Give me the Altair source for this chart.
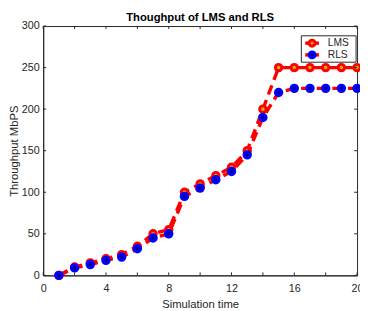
import altair as alt
import pandas as pd

time = list(range(1, 21))
lms = [0, 10, 15, 20, 25, 35, 50, 55, 100, 110, 120, 130, 150, 200, 250, 250, 250, 250, 250, 250]
rls = [0, 9, 13, 18, 22, 32, 45, 50, 95, 105, 115, 125, 145, 190, 220, 225, 225, 225, 225, 225]
series = ["LMS", "RLS"]
x_ticks = list(range(0, 21, 2))
y_ticks = list(range(0, 301, 50))

W, H = 321, 255
FONT = "Liberation Sans"
AX = "#262626"

df_l = pd.DataFrame({"t": time, "v": lms})
df_r = pd.DataFrame({"t": time, "v": rls})
one = pd.DataFrame({"a": [0]})

xs = alt.Scale(domain=[0, 20], nice=False, zero=False)
ys = alt.Scale(domain=[0, 300], nice=False, zero=False)

x_axis = alt.Axis(values=x_ticks, title="Simulation time", grid=False, ticks=False,
                  labelPadding=7, titlePadding=6, labelFont=FONT, labelFontSize=11,
                  labelColor=AX, titleFont=FONT, titleFontSize=11.5, titleFontWeight="normal",
                  titleColor=AX, domainColor=AX, labelFlush=False)
y_axis = alt.Axis(values=y_ticks, title="Throughput MbPS", grid=False, ticks=False,
                  labelPadding=4, labelFont=FONT, labelFontSize=11,
                  labelColor=AX, titleFont=FONT, titleFontSize=11.5, titleFontWeight="normal",
                  titleColor=AX, domainColor=AX,
                  titleX=-29, titleY=H / 2, titleAngle=270, titleAlign="center",
                  titleBaseline="middle")

RED = "#ff0000"
DASH = [10, 6]

def line(df):
    return alt.Chart(df).mark_line(color=RED, strokeWidth=3.5, strokeDash=DASH).encode(
        x=alt.X("t:Q", scale=xs, axis=x_axis),
        y=alt.Y("v:Q", scale=ys, axis=y_axis))

def pts(df, stroke, fill):
    return alt.Chart(df).mark_point(shape="circle", filled=False, stroke=stroke, fill=fill,
                                    fillOpacity=1, strokeWidth=3, size=44, opacity=1).encode(
        x=alt.X("t:Q", scale=xs), y=alt.Y("v:Q", scale=ys))

# inward ticks (MATLAB style)
xt = pd.DataFrame({"t": x_ticks})
yt = pd.DataFrame({"v": y_ticks})
tick_b = alt.Chart(xt).mark_rule(color=AX, strokeWidth=1).encode(
    x=alt.X("t:Q", scale=xs), y=alt.value(H), y2=alt.value(H - 3))
tick_t = alt.Chart(xt).mark_rule(color=AX, strokeWidth=1).encode(
    x=alt.X("t:Q", scale=xs), y=alt.value(0), y2=alt.value(3))
tick_l = alt.Chart(yt).mark_rule(color=AX, strokeWidth=1).encode(
    y=alt.Y("v:Q", scale=ys), x=alt.value(0), x2=alt.value(3))
tick_r = alt.Chart(yt).mark_rule(color=AX, strokeWidth=1).encode(
    y=alt.Y("v:Q", scale=ys), x=alt.value(W), x2=alt.value(W - 3))

# legend
lx0, lx1, ly0, ly1 = 264, 320, 10, 37
leg_box = alt.Chart(one).mark_rect(fill="white", stroke=AX, strokeWidth=1).encode(
    x=alt.value(lx0), x2=alt.value(lx1), y=alt.value(ly0), y2=alt.value(ly1))
leg = [leg_box]
for i, (name, stroke, fill) in enumerate([("LMS", RED, "#c8b400"), ("RLS", "#0000ff", "#00008a")]):
    yy = 17.5 + i * 12
    leg.append(alt.Chart(one).mark_rule(color=RED, strokeWidth=3.5).encode(
        x=alt.value(268), x2=alt.value(282), y=alt.value(yy)))
    leg.append(alt.Chart(one).mark_point(shape="circle", filled=False, stroke=stroke, fill=fill,
                                         fillOpacity=1, strokeWidth=3, size=38, opacity=1).encode(
        x=alt.value(275), y=alt.value(yy)))
    leg.append(alt.Chart(one).mark_text(align="left", baseline="middle", font=FONT,
                                        fontSize=10.5, color=AX).encode(
        x=alt.value(291), y=alt.value(yy), text=alt.value(name)))

chart = alt.layer(
    line(df_l), pts(df_l, RED, "#c8b400"),
    line(df_r), pts(df_r, "#0000ff", "#00008a"),
    tick_b, tick_t, tick_l, tick_r, *leg
).properties(
    width=W, height=H,
    title=alt.TitleParams("Thoughput of LMS and RLS", font=FONT, fontSize=11.5,
                          fontWeight="bold", color="#000000", offset=0, dy=3),
    autosize=alt.AutoSizeParams(type="none"),
    padding={"left": 36, "top": 15, "right": 3, "bottom": 33},
).configure_view(stroke=AX, strokeWidth=1)

chart.save("out.html", embed_options={"renderer": "svg", "actions": False})
